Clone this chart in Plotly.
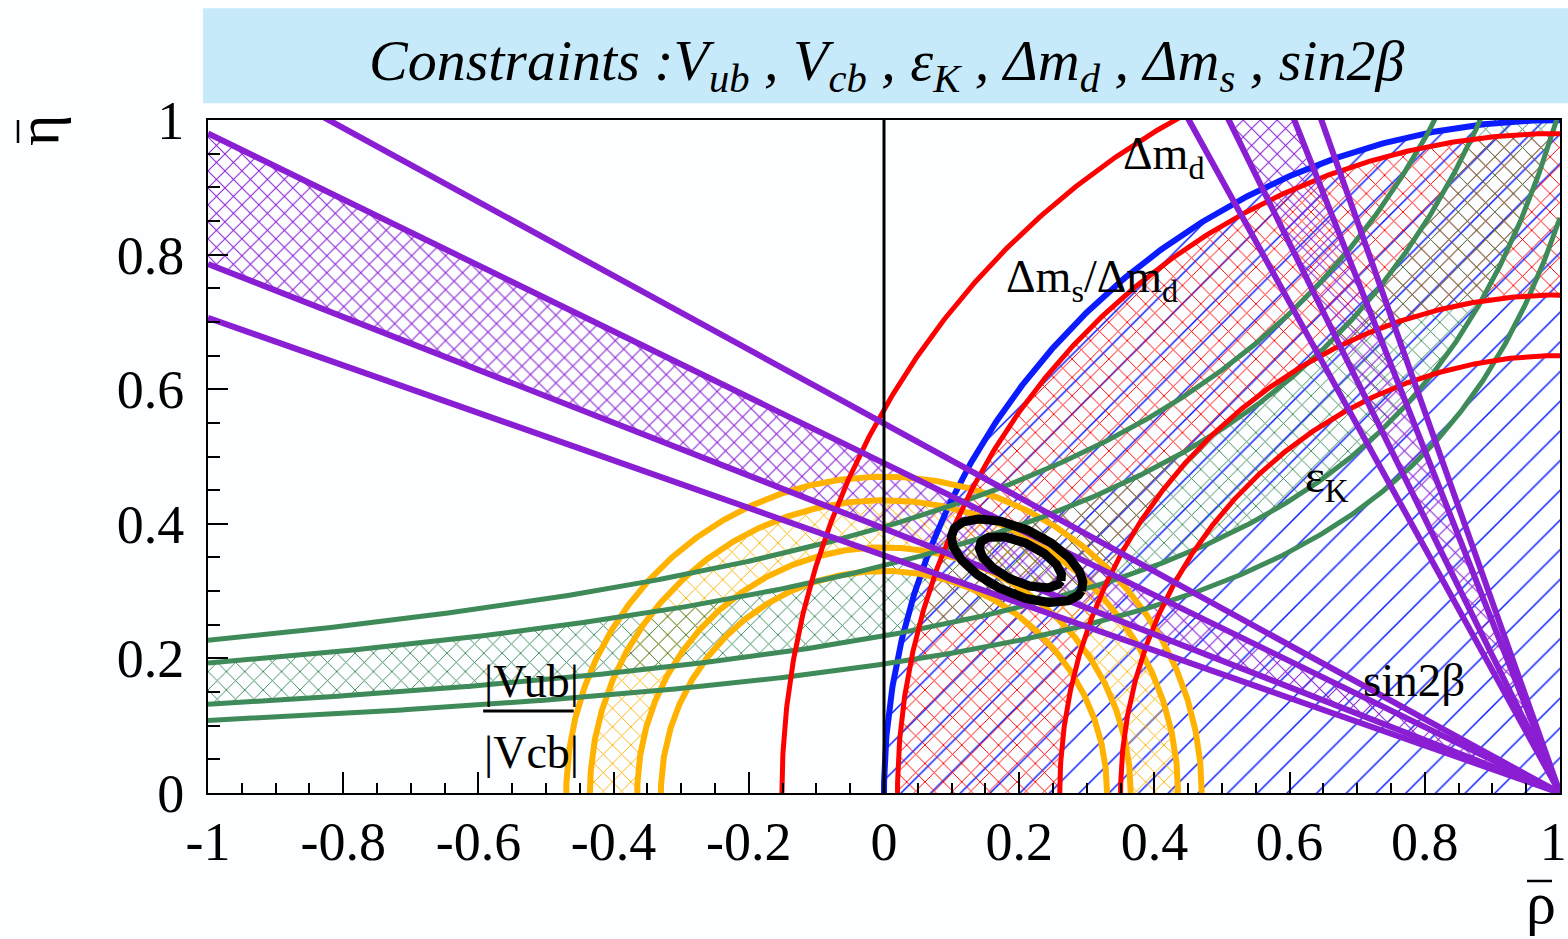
import numpy as np
import plotly.graph_objects as go

# ---------------- constraint parameters in the (rho_bar, eta_bar) plane ----------------
# |Vub|/|Vcb| : circles centred on (0, 0)
vub_line_r = [0.330, 0.365, 0.435, 0.470]
vub_band_r = [0.365, 0.435]

# Delta m_d : circles centred on (1, 0)
dmd_line_r = [0.65, 0.74, 0.98, 1.151]
dmd_band_r = [0.74, 0.98]

# Delta m_s / Delta m_d : circle centred on (1, 0), inside is hatched
dms_r = 1.0

# epsilon_K : hyperbolae  eta = b / (a - rho)
epsk_a = [1.348, 1.332, 1.298, 1.289]
epsk_b = [0.533, 0.450, 0.303, 0.247]
epsk_band = [1, 2]

# sin 2beta : tan(beta) of the lines through (1, 0)
sin2b_tan = [0.549, 0.490, 0.393, 0.353]
sin2b_band = [1, 2]

# fit contours (ellipses): centre, semi-axes, tilt [deg]
cont_rho = [0.197, 0.202]
cont_eta = [0.345, 0.343]
cont_a = [0.105, 0.066]
cont_b = [0.048, 0.029]
cont_tilt = [-25.0, -25.0]

# axis ticks
x_tick_vals = [-1, -0.8, -0.6, -0.4, -0.2, 0, 0.2, 0.4, 0.6, 0.8, 1]
x_tick_text = ["-1", "-0.8", "-0.6", "-0.4", "-0.2", "0", "0.2", "0.4", "0.6", "0.8", "1\u00a0"]
y_tick_vals = [0, 0.2, 0.4, 0.6, 0.8, 1]
y_tick_text = ["0", "0.2", "0.4", "0.6", "0.8", "1"]

# ---------------- colours ----------------
C_BLUE = "#0a1cff"
C_RED = "#ff0000"
C_ORANGE = "#ffb300"
C_GREEN = "#3e8a58"
C_PURPLE = "#8a1ed2"
C_BG = "#fcfeff"
SERIF = "Liberation Serif, Times New Roman, serif"

theta = np.linspace(0.0, np.pi, 721)
rho_grid = np.linspace(-1.0, 1.0, 801)


def arc(cx, r):
    return cx + r * np.cos(theta), r * np.sin(theta)


def annulus(cx, r_in, r_out):
    xo, yo = arc(cx, r_out)
    xi, yi = arc(cx, r_in)
    return np.concatenate([xo, xi[::-1]]), np.concatenate([yo, yi[::-1]])


def hyperbola(a, b):
    return rho_grid, b / (a - rho_grid)


def hatch(x, y, color, shape="x", size=13, solidity=0.14):
    return go.Scatter(
        x=x, y=y, mode="lines", line=dict(width=0, color=color),
        fill="toself", fillcolor="rgba(0,0,0,0)",
        fillpattern=dict(shape=shape, fgcolor=color, bgcolor="rgba(0,0,0,0)",
                         size=size, solidity=solidity),
        hoverinfo="skip", showlegend=False)


def curve(x, y, color, width):
    return go.Scatter(x=x, y=y, mode="lines", line=dict(color=color, width=width),
                      hoverinfo="skip", showlegend=False)


fig = go.Figure()

# ---- hatched regions ----
# Delta m_s / Delta m_d : quarter disc around (1, 0)
xd, yd = arc(1.0, dms_r)
fig.add_trace(hatch(np.append(xd, 1.0), np.append(yd, 0.0), C_BLUE, "/", 21, 0.07))

# Delta m_d band
fig.add_trace(hatch(*annulus(1.0, dmd_band_r[0], dmd_band_r[1]), C_RED))

# |Vub|/|Vcb| band
fig.add_trace(hatch(*annulus(0.0, vub_band_r[0], vub_band_r[1]), C_ORANGE))

# epsilon_K band
i0, i1 = epsk_band
h0x, h0y = hyperbola(epsk_a[i0], epsk_b[i0])
h1x, h1y = hyperbola(epsk_a[i1], epsk_b[i1])
fig.add_trace(hatch(np.concatenate([h0x, h1x[::-1]]), np.concatenate([h0y, h1y[::-1]]), C_GREEN))

# sin 2beta bands (beta and pi/2 - beta solutions)
t0, t1 = sin2b_tan[sin2b_band[0]], sin2b_tan[sin2b_band[1]]
fig.add_trace(hatch([1.0, -1.0, -1.0, 1.0], [0.0, 2 * t0, 2 * t1, 0.0], C_PURPLE, "x", 12, 0.16))
fig.add_trace(hatch([1.0, 1 - 2 * t0, 1 - 2 * t1, 1.0], [0.0, 2.0, 2.0, 0.0], C_PURPLE, "x", 12, 0.16))

# ---- boundary lines ----
fig.add_trace(curve(*arc(1.0, dms_r), C_BLUE, 6))
for r in vub_line_r:
    fig.add_trace(curve(*arc(0.0, r), C_ORANGE, 6))
for a, b in zip(epsk_a, epsk_b):
    fig.add_trace(curve(*hyperbola(a, b), C_GREEN, 5))
for r in dmd_line_r:
    fig.add_trace(curve(*arc(1.0, r), C_RED, 5))
for t in sin2b_tan:
    fig.add_trace(curve([1.0, -1.0], [0.0, 2 * t], C_PURPLE, 6))
    fig.add_trace(curve([1.0, 1 - 2 * t], [0.0, 2.0], C_PURPLE, 6))

# ---- fit contours ----
phi = np.linspace(0, 2 * np.pi, 361)
for cr, ce, a, b, tilt in zip(cont_rho, cont_eta, cont_a, cont_b, cont_tilt):
    th = np.deg2rad(tilt)
    ex = cr + a * np.cos(phi) * np.cos(th) - b * np.sin(phi) * np.sin(th)
    ey = ce + a * np.cos(phi) * np.sin(th) + b * np.sin(phi) * np.cos(th)
    fig.add_trace(curve(ex, ey, "black", 9))

# rho = 0 line
fig.add_shape(type="line", xref="x", yref="y", x0=0, x1=0, y0=0, y1=1,
              line=dict(color="black", width=3))

# title box
fig.add_shape(type="rect", xref="paper", yref="paper",
              x0=-0.0037, x1=1.006, y0=1.025, y1=1.166,
              fillcolor="#c6eafa", line=dict(width=0), layer="below")

annotations = [
    dict(text="<i>Constraints :V<sub>ub</sub> , V<sub>cb</sub> , \u03b5<sub>K</sub> , "
              "\u0394m<sub>d</sub> , \u0394m<sub>s</sub> , sin2\u03b2</i>",
         xref="paper", yref="paper", x=0.502, y=1.083, xanchor="center", yanchor="middle",
         showarrow=False, font=dict(family=SERIF, size=58, color="black")),
    dict(text="\u0394m<sub>d</sub>", xref="x", yref="y", x=0.414, y=0.945,
         xanchor="center", yanchor="middle",
         showarrow=False, font=dict(family=SERIF, size=46, color="black")),
    dict(text="\u0394m<sub>s</sub>/\u0394m<sub>d</sub>", xref="x", yref="y", x=0.308, y=0.763,
         xanchor="center", yanchor="middle",
         showarrow=False, font=dict(family=SERIF, size=46, color="black")),
    dict(text="\u03b5<sub>K</sub>", xref="x", yref="y", x=0.655, y=0.466,
         xanchor="center", yanchor="middle",
         showarrow=False, font=dict(family=SERIF, size=47, color="black")),
    dict(text="sin2\u03b2", xref="x", yref="y", x=0.784, y=0.168,
         xanchor="center", yanchor="middle",
         showarrow=False, font=dict(family=SERIF, size=47, color="black")),
    dict(text="|Vub|", xref="x", yref="y", x=-0.521, y=0.165,
         xanchor="center", yanchor="middle",
         showarrow=False, font=dict(family=SERIF, size=46, color="black")),
    dict(text="|Vcb|", xref="x", yref="y", x=-0.522, y=0.060,
         xanchor="center", yanchor="middle",
         showarrow=False, font=dict(family=SERIF, size=46, color="black")),
    # axis titles
    dict(text="\u03b7", xref="paper", yref="paper", x=(38 - 208) / 1352, y=(793 - 131) / 673,
         textangle=-90, xanchor="center", yanchor="middle",
         showarrow=False, font=dict(family=SERIF, size=60, color="black")),
    dict(text="\u03c1", xref="paper", yref="paper", x=(1541 - 208) / 1352, y=(793 - 903) / 673,
         xanchor="center", yanchor="middle",
         showarrow=False, font=dict(family=SERIF, size=60, color="black")),
]

# fraction bar of |Vub|/|Vcb| and the bars over the axis symbols
fig.add_shape(type="line", xref="x", yref="y", x0=-0.593, x1=-0.459, y0=0.122, y1=0.122,
              line=dict(color="black", width=3))
fig.add_shape(type="line", xref="paper", yref="paper", x0=(18 - 208) / 1352, x1=(18 - 208) / 1352,
              y0=(793 - 120) / 673, y1=(793 - 143) / 673, line=dict(color="black", width=2.5))
fig.add_shape(type="line", xref="paper", yref="paper", x0=(1527 - 208) / 1352, x1=(1552 - 208) / 1352,
              y0=(793 - 881) / 673, y1=(793 - 881) / 673, line=dict(color="black", width=2.5))

axis_common = dict(
    showgrid=False, zeroline=False, showline=True, linecolor="black", linewidth=2,
    mirror=True, ticks="inside", tickcolor="black", tickwidth=1.5,
    tickfont=dict(family=SERIF, size=54, color="black"), automargin=False,
    ticklabeloverflow="allow",
)

fig.update_layout(
    template="none",
    width=1568, height=939,
    margin=dict(l=208, r=8, t=120, b=146),
    paper_bgcolor=C_BG, plot_bgcolor=C_BG,
    showlegend=False,
    annotations=annotations,
    xaxis=dict(range=[-1, 1], tickvals=x_tick_vals, ticktext=x_tick_text, ticklen=21,
               minor=dict(dtick=0.05, tick0=0, ticklen=10, ticks="inside",
                          tickcolor="black", tickwidth=1.5),
               ticklabelstandoff=0, **axis_common),
    yaxis=dict(range=[0, 1], tickvals=y_tick_vals, ticktext=y_tick_text, ticklen=20,
               minor=dict(dtick=0.05, tick0=0, ticklen=12, ticks="inside",
                          tickcolor="black", tickwidth=1.5),
               ticklabelstandoff=11, **axis_common),
)

fig.write_html("out.html")
